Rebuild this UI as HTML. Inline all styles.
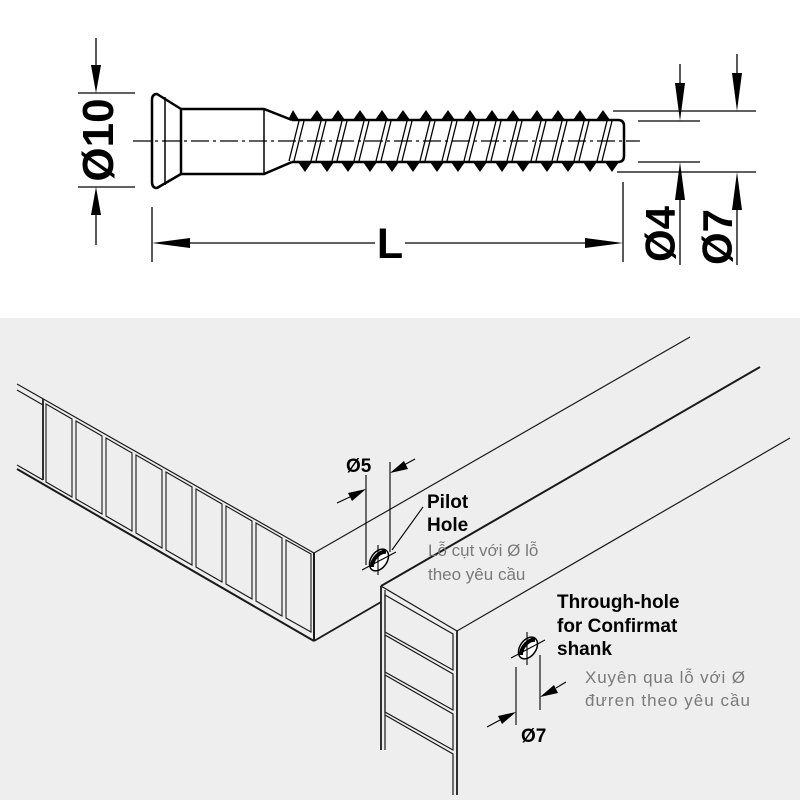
<!DOCTYPE html>
<html><head><meta charset="utf-8"><style>
html,body{margin:0;padding:0;background:#fff}
svg{display:block}
.b{font-family:"Liberation Sans",sans-serif;font-weight:bold;fill:#000}
.g{font-family:"Liberation Sans","Noto Sans CJK SC",sans-serif;fill:#7a7a7a;font-size:17px}
</style></head><body>
<svg width="800" height="800" viewBox="0 0 800 800" xmlns="http://www.w3.org/2000/svg">
<rect x="0" y="0" width="800" height="318" fill="#fff"/>
<rect x="0" y="318" width="800" height="482" fill="#eeeeee"/>

<g stroke="#000" fill="none">
  <line x1="133" y1="141" x2="640" y2="141" stroke-width="1.2" stroke-dasharray="18,4,3,4"/>
  <path d="M157,94 Q152,94 152,100 L152,182 Q152,188 157,188 L181,174 L181,109 Z" stroke-width="2.5" stroke-linejoin="round"/>
  <line x1="165" y1="97" x2="165" y2="185" stroke-width="1.5"/>
  <path d="M181,109 L264,109 L292,120 M181,174 L264,174 L292,162" stroke-width="2.5"/>
  <line x1="264" y1="109" x2="264" y2="174" stroke-width="1.5"/>
  <path d="M292,120 L618,120 Q624,120 624,126 L624,156 Q624,162 618,162 L292,162" stroke-width="2.5"/>
</g>
<g fill="#000" stroke="none">
  <polygon points="288,120 293,110 299,120"/><polygon points="310,120 317,110 324,120"/><polygon points="331,120 338,110 345,120"/><polygon points="353,120 360,110 367,120"/><polygon points="375,120 382,110 389,120"/><polygon points="396,120 403,110 410,120"/><polygon points="419,120 426,110 433,120"/><polygon points="441,120 448,110 455,120"/><polygon points="463,120 470,110 477,120"/><polygon points="485,120 492,110 499,120"/><polygon points="506,120 513,110 520,120"/><polygon points="530,120 537,110 544,120"/><polygon points="551,120 558,110 565,120"/><polygon points="573,120 580,110 587,120"/><polygon points="596,120 603,110 610,120"/>
  <polygon points="298,162 305,172 312,162"/><polygon points="320,162 327,172 334,162"/><polygon points="341,162 348,172 355,162"/><polygon points="363,162 370,172 377,162"/><polygon points="385,162 392,172 399,162"/><polygon points="406,162 413,172 420,162"/><polygon points="430,162 437,172 444,162"/><polygon points="451,162 458,172 465,162"/><polygon points="473,162 480,172 487,162"/><polygon points="495,162 502,172 509,162"/><polygon points="516,162 523,172 530,162"/><polygon points="540,162 547,172 554,162"/><polygon points="561,162 568,172 575,162"/><polygon points="583,162 590,172 597,162"/><polygon points="605,162 612,172 619,162"/>
</g>
<g stroke="#000" stroke-width="1.3">
  <path d="M299,121 L289,161 M304,121 L294,161 M321,121 L311,161 M326,121 L316,161 M342,121 L332,161 M347,121 L337,161 M364,121 L354,161 M369,121 L359,161 M386,121 L376,161 M391,121 L381,161 M407,121 L397,161 M412,121 L402,161 M430,121 L420,161 M435,121 L425,161 M452,121 L442,161 M457,121 L447,161 M474,121 L464,161 M479,121 L469,161 M496,121 L486,161 M501,121 L491,161 M517,121 L507,161 M522,121 L512,161 M541,121 L531,161 M546,121 L536,161 M562,121 L552,161 M567,121 L557,161 M584,121 L574,161 M589,121 L579,161 M607,121 L597,161 M612,121 L602,161"/>
</g>

<g stroke="#000" stroke-width="1.3" fill="none">
  <line x1="78" y1="93" x2="135" y2="93"/>
  <line x1="78" y1="187" x2="135" y2="187"/>
  <line x1="96" y1="38" x2="96" y2="80"/>
  <line x1="96" y1="200" x2="96" y2="245"/>
  <line x1="152" y1="207" x2="152" y2="262"/>
  <line x1="623" y1="182" x2="623" y2="262"/>
  <line x1="185" y1="243" x2="375" y2="243"/>
  <line x1="405" y1="243" x2="590" y2="243"/>
  <line x1="613" y1="111" x2="756" y2="111"/>
  <line x1="617" y1="172" x2="756" y2="172"/>
  <line x1="638" y1="121" x2="700" y2="121"/>
  <line x1="638" y1="162" x2="700" y2="162"/>
  <line x1="680" y1="64" x2="680" y2="100"/>
  <line x1="680" y1="180" x2="680" y2="265"/>
  <line x1="737" y1="54" x2="737" y2="90"/>
  <line x1="737" y1="190" x2="737" y2="265"/>
</g>
<g fill="#000">
  <polygon points="96,93 91,65 101,65"/>
  <polygon points="96,187 91,215 101,215"/>
  <polygon points="152,243 190,238 190,248"/>
  <polygon points="623,243 585,238 585,248"/>
  <polygon points="680,121 675,83 685,83"/>
  <polygon points="680,162 675,200 685,200"/>
  <polygon points="737,111 732,73 742,73"/>
  <polygon points="737,172 732,210 742,210"/>
</g>
<text class="b" font-size="44" transform="translate(113,140) rotate(-90)" text-anchor="middle">Ø10</text>
<text class="b" font-size="43" x="390" y="258" text-anchor="middle">L</text>
<text class="b" font-size="42" transform="translate(675,234) rotate(-90)" text-anchor="middle">Ø4</text>
<text class="b" font-size="42" transform="translate(732,237) rotate(-90)" text-anchor="middle">Ø7</text>

<g stroke="#1a1a1a" stroke-width="1.2" fill="none">
  <line x1="17" y1="384" x2="314" y2="553"/>
  <line x1="17" y1="390" x2="43" y2="405"/>
  <line x1="17" y1="465" x2="43" y2="480"/>
  <line x1="17" y1="469" x2="314" y2="641" stroke-width="2"/>
  <line x1="314" y1="553" x2="314" y2="641" stroke-width="2"/>
  <line x1="314" y1="553" x2="690" y2="337"/>
  <line x1="314" y1="641" x2="381" y2="602" stroke-width="1.8"/>
  <line x1="381" y1="586" x2="760" y2="367" stroke-width="2"/>
  <line x1="43" y1="399" x2="43" y2="480" stroke-width="1.8"/>
</g>
<g stroke="#1a1a1a" stroke-width="1.1" fill="none">
  <polygon points="46,404 72,419 72,497 46,482"/>
  <polygon points="76,421 102,436 102,514 76,499"/>
  <polygon points="106,438 132,453 132,531 106,516"/>
  <polygon points="136,455 162,470 162,548 136,533"/>
  <polygon points="166,472 192,487 192,565 166,550"/>
  <polygon points="196,489 222,504 222,582 196,567"/>
  <polygon points="226,506 252,521 252,599 226,584"/>
  <polygon points="256,523 282,538 282,616 256,601"/>
  <polygon points="286,540 311,554 311,632 286,618"/>
</g>
<g stroke="#1a1a1a" stroke-width="1.2" fill="none">
  <line x1="381" y1="586" x2="381" y2="750" stroke-width="1.8"/>
  <line x1="385" y1="590" x2="385" y2="750"/>
  <line x1="381" y1="586" x2="457" y2="631"/>
  <line x1="457" y1="631" x2="457" y2="795" stroke-width="1.8"/>
  <line x1="457" y1="631" x2="790" y2="438"/>
  <polygon points="385,595 453,634 453,670 385,632"/>
  <polygon points="385,635 453,674 453,710 385,672"/>
  <polygon points="385,675 453,714 453,750 385,712"/>
  <polyline points="385,715 453,754 453,795"/>
</g>

<g stroke="#000" fill="none" stroke-width="1.1">
  <ellipse cx="379" cy="560" rx="8" ry="12" transform="rotate(35 379 560)" fill="#fff" stroke-width="1.5"/>
  <path d="M372,567 A8,12 35 0 1 386,552" stroke-width="4"/>
  <line x1="366" y1="475" x2="366" y2="565"/>
  <line x1="390" y1="462" x2="390" y2="552"/>
  <line x1="378" y1="545" x2="378" y2="575"/>
  <line x1="362" y1="570" x2="396" y2="552"/>
  <line x1="337" y1="503" x2="352" y2="496"/>
  <line x1="404" y1="465" x2="415" y2="459"/>
  <line x1="423" y1="507" x2="392" y2="550"/>
  <ellipse cx="528" cy="648" rx="8" ry="12" transform="rotate(35 528 648)" fill="#fff" stroke-width="1.5"/>
  <path d="M521,655 A8,12 35 0 1 535,640" stroke-width="4"/>
  <line x1="527" y1="632" x2="527" y2="665"/>
  <line x1="511" y1="658" x2="545" y2="640"/>
  <line x1="516" y1="667" x2="516" y2="725"/>
  <line x1="540" y1="655" x2="540" y2="710"/>
  <line x1="487" y1="727" x2="500" y2="720"/>
  <line x1="556" y1="688" x2="566" y2="682"/>
</g>
<g fill="#000">
  <polygon points="366,489 348,493 352,501"/>
  <polygon points="390,473 408,469 404,461"/>
  <polygon points="516,712 498,716 502,724"/>
  <polygon points="540,697 558,693 554,685"/>
</g>
<text class="b" font-size="19" x="346" y="472">Ø5</text>
<text class="b" font-size="19" x="427" y="508">Pilot</text>
<text class="b" font-size="19" x="427" y="531">Hole</text>
<text class="g" x="428" y="556">Lỗ cụt với Ø lỗ</text>
<text class="g" x="428" y="580">theo yêu cầu</text>
<text class="b" font-size="19" x="557" y="608">Through-hole</text>
<text class="b" font-size="19" x="557" y="632">for Confirmat</text>
<text class="b" font-size="19" x="557" y="655">shank</text>
<text class="g" x="585" y="683" textLength="160">Xuyên qua lỗ với Ø</text>
<text class="g" x="585" y="706" textLength="165">đưren theo yêu cầu</text>
<text class="b" font-size="19" x="521" y="742">Ø7</text>
</svg>
</body></html>
